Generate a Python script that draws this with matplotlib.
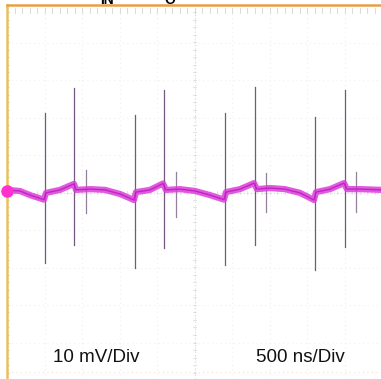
import matplotlib
matplotlib.use("Agg")
import matplotlib.pyplot as plt
import numpy as np

plt.rcParams['font.family'] = ['Liberation Sans', 'DejaVu Sans']

# ---- data (time in ns, voltage in mV) ----
trace_t = [0, 173, 307, 493,
           520, 707, 893,
           920, 1107, 1307, 1507, 1693,
           1720, 1907, 2080,
           2120, 2307, 2507, 2707, 2893,
           2920, 3107, 3293,
           3333, 3507, 3707, 3907, 4093,
           4120, 4307, 4493,
           4533, 4707, 4987]
trace_v = [0.7, 0.4, -0.7, -1.9,
           -0.1, 0.7, 2.3,
           0.7, 0.9, 0.7, -0.4, -2.0,
           0.1, 0.7, 2.4,
           0.7, 0.9, 0.4, -0.7, -1.9,
           0.1, 0.9, 2.5,
           0.9, 1.2, 0.9, -0.1, -2.0,
           0.1, 0.9, 2.5,
           0.9, 0.9, 0.7]

spike_t = [507, 893, 1053, 1707, 2093, 2253, 2907, 3307, 3453, 4107, 4507, 4653]
spike_hi = [21.2, 27.9, 6.0, 20.7, 27.3, 5.5, 21.2, 28.1, 5.2, 20.1, 27.3, 5.5]
spike_lo = [-18.8, -14.0, -5.5, -20.1, -14.8, -6.5, -19.3, -14.0, -5.2, -20.7, -14.5, -5.2]
spike_kind = ["big", "big", "small"] * 4

x_div = 500   # ns / div
y_div = 10    # mV / div
labels = ["10 mV/Div", "500 ns/Div"]

# ---- figure ----
W, H = 381, 379
fig = plt.figure(figsize=(W / 100, H / 100), dpi=100)
ax = fig.add_axes([7 / W, 0, 374 / W, 374 / H])
ax.set_xlim(0, 374 / 37.5 * x_div)
ax.set_ylim((192.5 - 379) / 37.5 * y_div, (192.5 - 5) / 37.5 * y_div)

# grid
for k in range(1, 10):
    ax.axvline(k * x_div, color="#efefef", lw=0.8, ls=(0, (1, 3)), zorder=0)
for k in range(-4, 5):
    ax.axhline(k * y_div, color="#efefef", lw=0.8, ls=(0, (1, 3)), zorder=0)
ax.axvline(5 * x_div, color="#dadada", lw=0.8, ls=(0, (1, 2)), zorder=0)
ax.axhline(0, color="#dadada", lw=0.8, ls=(0, (1, 2)), zorder=0)
ax.axhline(-47.9, color="#f2e4c8", lw=0.8, ls=(0, (1, 3)), zorder=0)
# minor ticks on center lines
mt = np.arange(0, 10.01, 0.2)
for m in mt:
    ax.plot([m * x_div] * 2, [-0.5, 0.5], color="#dedede", lw=0.6, zorder=0)
for m in np.arange(-5, 5.01, 0.2):
    ax.plot([5 * x_div - 25, 5 * x_div + 25], [m * y_div] * 2, color="#dedede", lw=0.6, zorder=0)

# border ticks
for m in mt:
    ax.plot([m * x_div] * 2, [49.2, 48.0], color="#d4d4d4", lw=0.6, zorder=1)
for m in np.arange(-5, 5.01, 0.2):
    ax.plot([0, 25], [m * y_div] * 2, color="#dadada", lw=0.6, zorder=1)

# spikes
for t, hi, lo, kind in zip(spike_t, spike_hi, spike_lo, spike_kind):
    c = "#74587f" if kind == "big" else "#94809a"
    ax.plot([t, t], [lo, hi], color=c, lw=0.9, zorder=3)

# trace
ax.plot(trace_t, trace_v, color="#dc3cdc", lw=4.5, alpha=0.85, zorder=4,
        solid_joinstyle="round")
ax.plot(trace_t, trace_v, color="#b010b0", lw=1.0, alpha=0.7, zorder=5)
ax.plot([0], [0.3], "o", color="#ff30d0", ms=8, zorder=6, clip_on=False)

for s in ["right", "bottom"]:
    ax.spines[s].set_visible(False)
ax.spines["top"].set_color("#e8a048")
ax.spines["top"].set_linewidth(1.8)
ax.spines["left"].set_color("#e8c060")
ax.spines["left"].set_linewidth(1.8)
ax.set_xticks([])
ax.set_yticks([])

ax.text(2.37 * x_div, -45.3, labels[0], ha="center", va="baseline", fontsize=13.5, color="#111111")
ax.text(7.83 * x_div, -45.3, labels[1], ha="center", va="baseline", fontsize=13.5, color="#111111")

fig.text(100 / W, 1 - 4 / H, "IN", ha="left", va="baseline", fontsize=10, fontweight="bold")
fig.text(164 / W, 1 - 4 / H, "O", ha="left", va="baseline", fontsize=10, fontweight="bold")

fig.savefig("out.png", dpi=100)
